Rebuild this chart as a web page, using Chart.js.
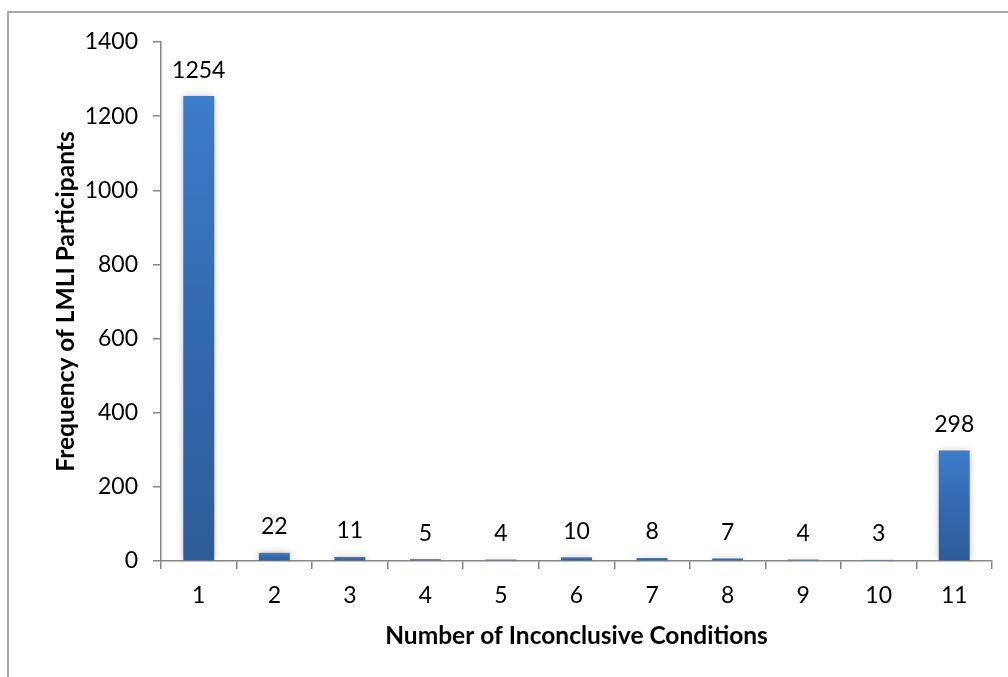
<!DOCTYPE html>
<html>
<head>
<meta charset="utf-8">
<script src="https://cdn.jsdelivr.net/npm/chart.js@4/dist/chart.umd.min.js"></script>
<style>
  html, body { margin: 0; padding: 0; background: #ffffff; }
  #wrap { position: relative; width: 1008px; height: 677px; }
</style>
</head>
<body>
<div id="wrap"><canvas id="chart" width="1008" height="677"></canvas></div>
<script>
// Number of inconclusive conditions per participant
const categories = ['1', '2', '3', '4', '5', '6', '7', '8', '9', '10', '11'];
// Frequency of participants for each count
const frequencies = [1254, 22, 11, 5, 4, 10, 8, 7, 4, 3, 298];
// Value axis ticks
const yTicks = [0, 200, 400, 600, 800, 1000, 1200, 1400];

const FONT = 'Lato, "Open Sans", "Liberation Sans", sans-serif';
const AXIS_GREY = '#868686';
const LABEL_SIZE = 23;
const TITLE_SIZE = 24.5;

// Outer frame around the chart area
const framePlugin = {
  id: 'frame',
  beforeDraw(chart) {
    const ctx = chart.ctx;
    ctx.save();
    ctx.strokeStyle = '#8c8c8c';
    ctx.lineWidth = 1.5;
    ctx.strokeRect(8, 12, 1200, 900);
    ctx.restore();
  }
};

// Soft shadow behind the bars
const shadowPlugin = {
  id: 'barShadow',
  beforeDatasetsDraw(chart) {
    const ctx = chart.ctx;
    ctx.save();
    ctx.shadowColor = 'rgba(0,0,0,0.28)';
    ctx.shadowBlur = 7;
    ctx.shadowOffsetX = 0;
    ctx.shadowOffsetY = 0;
  },
  afterDatasetsDraw(chart) {
    chart.ctx.restore();
  }
};

// Value labels above each bar
const valueLabelPlugin = {
  id: 'valueLabels',
  afterDatasetsDraw(chart) {
    const ctx = chart.ctx;
    const meta = chart.getDatasetMeta(0);
    ctx.save();
    ctx.font = LABEL_SIZE + 'px ' + FONT;
    ctx.fillStyle = '#000000';
    ctx.textAlign = 'center';
    ctx.textBaseline = 'middle';
    meta.data.forEach((bar, i) => {
      ctx.fillText(String(chart.data.datasets[0].data[i]), bar.x, bar.y - 26);
    });
    ctx.restore();
  }
};

function barGradient(context) {
  const chart = context.chart;
  const y = chart.scales && chart.scales.y;
  if (!y || !chart.chartArea || context.raw === undefined) return '#3a77c4';
  const top = y.getPixelForValue(context.raw);
  const bottom = y.getPixelForValue(0);
  if (!isFinite(top) || !isFinite(bottom) || bottom - top < 1) return '#3a77c4';
  const g = chart.ctx.createLinearGradient(0, top, 0, bottom);
  g.addColorStop(0, '#3c7cca');
  g.addColorStop(0.5, '#3369b0');
  g.addColorStop(1, '#2d5c98');
  return g;
}

new Chart(document.getElementById('chart'), {
  type: 'bar',
  data: {
    labels: categories,
    datasets: [{
      data: frequencies,
      backgroundColor: barGradient,
      borderWidth: 0,
      barPercentage: 0.41,
      categoryPercentage: 1.0
    }]
  },
  options: {
    responsive: false,
    animation: false,
    events: [],
    layout: { padding: { left: 51, top: 42, right: 16, bottom: 26 } },
    plugins: {
      legend: { display: false },
      tooltip: { enabled: false },
      title: { display: false }
    },
    scales: {
      x: {
        offset: true,
        grid: {
          display: true,
          offset: true,
          drawOnChartArea: false,
          drawTicks: true,
          tickLength: 8,
          color: AXIS_GREY,
          lineWidth: 1.5
        },
        border: { display: true, color: AXIS_GREY, width: 1.5 },
        ticks: {
          color: '#000000',
          font: { family: FONT, size: LABEL_SIZE },
          padding: 13,
          maxRotation: 0,
          autoSkip: false
        },
        title: {
          display: true,
          text: 'Number of Inconclusive Conditions',
          color: '#000000',
          font: { family: FONT, size: TITLE_SIZE, weight: 'bold' },
          padding: { top: 0, bottom: 0 }
        },
        afterFit(scale) { scale.height = 677 - 561 - 26; }
      },
      y: {
        min: 0,
        max: 1400,
        afterBuildTicks(scale) { scale.ticks = yTicks.map(v => ({ value: v })); },
        grid: {
          display: true,
          drawOnChartArea: false,
          drawTicks: true,
          tickLength: 8,
          color: AXIS_GREY,
          lineWidth: 1.5
        },
        border: { display: true, color: AXIS_GREY, width: 1.5 },
        ticks: {
          color: '#000000',
          font: { family: FONT, size: LABEL_SIZE },
          padding: 15,
          callback: (v) => String(v)
        },
        title: {
          display: true,
          text: 'Frequency of LMLI Participants',
          color: '#000000',
          font: { family: FONT, size: TITLE_SIZE, weight: 'bold' },
          padding: { top: 0, bottom: 0 }
        },
        afterFit(scale) { scale.width = 161 - 51; }
      }
    }
  },
  plugins: [framePlugin, shadowPlugin, valueLabelPlugin]
});
</script>
</body>
</html>
